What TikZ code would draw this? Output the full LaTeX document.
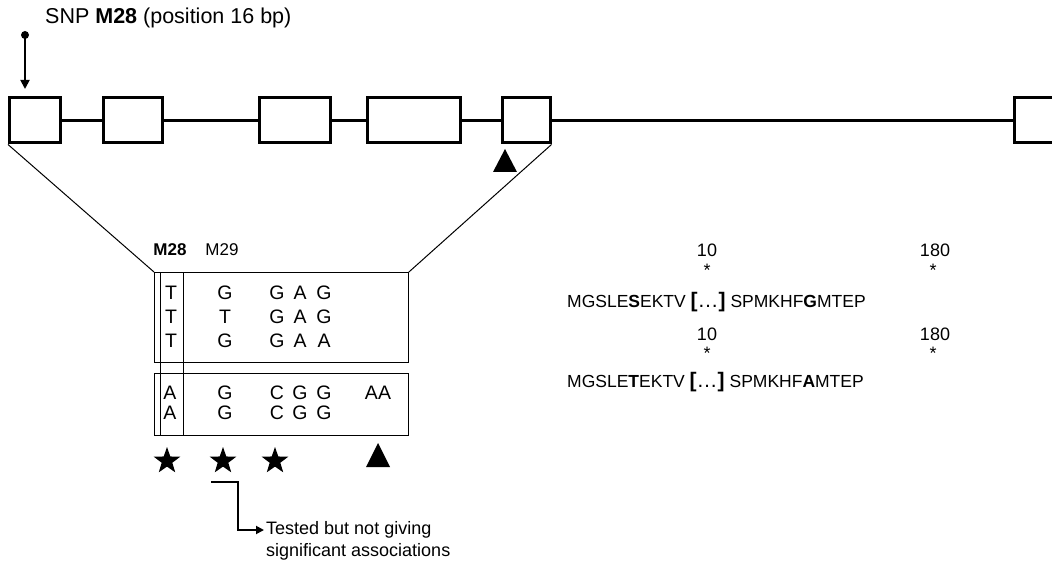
\documentclass[tikz,border=0pt]{standalone}
\usepackage{fontspec}
\setmainfont{Liberation Sans}
\usetikzlibrary{shapes.geometric,arrows.meta}
\begin{document}
\begin{tikzpicture}[x=1pt,y=-1pt,
  exon/.style={draw,line width=3pt,inner sep=0pt,minimum height=45pt},
  intron/.style={line width=3pt},
  abox/.style={draw,line width=0.9pt,inner sep=0pt,anchor=north west},
  base/.style={inner sep=0pt,font=\fontsize{18}{20}\selectfont},
  nuc/.style={inner sep=0pt,font=\fontsize{19.5}{20}\selectfont},
  seqtxt/.style={inner sep=0pt,anchor=west,font=\fontsize{17.5}{20}\selectfont},
  startag/.style={star,star points=5,star point ratio=2.5,fill=black,inner sep=0pt,minimum size=28pt},
  zoomline/.style={line width=1pt},
  arr/.style={line width=1.8pt,-{Triangle[length=9pt,width=9pt]}}
]
\clip (0,0) rectangle (1052,572);
\fill[white] (0,0) rectangle (1052,572);

% title
\node[inner sep=0pt,anchor=west,font=\fontsize{21.5}{24}\selectfont] (title) at (45,18) {SNP \textbf{M28} (position 16 bp)};

% exons
\node[exon,minimum width=51pt] (e1) at (35,120.5) {};
\node[exon,minimum width=59pt] (e2) at (132.5,120.5) {};
\node[exon,minimum width=71pt] (e3) at (294.5,120.5) {};
\node[exon,minimum width=93pt] (e4) at (413.5,120.5) {};
\node[exon,minimum width=48pt] (e5) at (526,120.5) {};
\node[exon,minimum width=52pt] (e6) at (1040,120.5) {};
\draw[intron] (e1.east) -- (e2.west);
\draw[intron] (e2.east) -- (e3.west);
\draw[intron] (e3.east) -- (e4.west);
\draw[intron] (e4.east) -- (e5.west);
\draw[intron] (e5.east) -- (e6.west);

% SNP arrow
\coordinate (snpdot) at (25,35);
\coordinate (snptip) at (25,89);
\fill (snpdot) circle (4pt);
\draw[arr] (snpdot) -- (snptip);

% triangle under exon 5
\fill (493,172) -- (505,149) -- (517,172) -- cycle;

% alignment boxes
\node[abox,minimum width=254pt,minimum height=90pt] (ub) at (154,272) {};
\node[abox,minimum width=254pt,minimum height=62pt] (lb) at (154,373) {};
\node[abox,minimum width=23pt,minimum height=163pt] (cb) at (160,272) {};

% zoom lines
\draw[zoomline] (e1.south west) -- (ub.north west);
\draw[zoomline] (e5.south east) -- (ub.north east);

% labels
\node[base,font=\fontsize{17}{20}\selectfont\bfseries] (m28) at (170,250) {M28};
\node[base,font=\fontsize{17}{20}\selectfont] (m29) at (222,250) {M29};

% upper rows
\foreach \y/\a/\b/\c/\d/\e [count=\i] in {293/T/G/G/A/G, 317/T/T/G/A/G, 341/T/G/G/A/A}{
  \node[nuc] (u\i a) at (171,\y) {\a};
  \node[nuc] (u\i b) at (225,\y) {\b};
  \node[nuc] (u\i c) at (277,\y) {\c};
  \node[nuc] (u\i d) at (300,\y) {\d};
  \node[nuc] (u\i e) at (324,\y) {\e};
}
% lower rows
\foreach \y/\a/\b/\c/\d/\e [count=\i] in {393/A/G/C/G/G, 413/A/G/C/G/G}{
  \node[nuc] (l\i a) at (170,\y) {\a};
  \node[nuc] (l\i b) at (225,\y) {\b};
  \node[nuc] (l\i c) at (277,\y) {\c};
  \node[nuc] (l\i d) at (300,\y) {\d};
  \node[nuc] (l\i e) at (324,\y) {\e};
}
\node[nuc] (aa) at (378,393) {AA};

% stars and triangle
\node[startag] (s1) at (167,461) {};
\node[startag] (s2) at (223,461) {};
\node[startag] (s3) at (275,461) {};
\fill (366,467) -- (378,443) -- (390,467) -- cycle;

% bent arrow
\coordinate (b0) at (211,482);
\coordinate (b1) at (238,482);
\coordinate (b2) at (238,530);
\node[base,anchor=west] (tested) at (266,530) {Tested but not giving};
\node[base,anchor=west] (signif) at (266,552) {significant associations};
\draw[line width=1.8pt,-{Triangle[length=8pt,width=8pt]}] (b0) -- (b1) -- (b2) -- ([xshift=-2pt]tested.west);

% protein sequences
\node[base] (n10a) at (707,250) {10};
\node[base] (st10a) at (707,270) {*};
\node[base] (n180a) at (935,250) {180};
\node[base] (st180a) at (933,270) {*};
\node[seqtxt] (seq1) at (567,302) {MGSLE\textbf{S}EKTV {\fontsize{21}{22}\selectfont\textbf{[}\ldots\textbf{]}} SPMKHF\textbf{G}MTEP};
\node[base] (n10b) at (707,334) {10};
\node[base] (st10b) at (707,353) {*};
\node[base] (n180b) at (935,334) {180};
\node[base] (st180b) at (933,353) {*};
\node[seqtxt] (seq2) at (567,382) {MGSLE\textbf{T}EKTV {\fontsize{21}{22}\selectfont\textbf{[}\ldots\textbf{]}} SPMKHF\textbf{A}MTEP};
\end{tikzpicture}
\end{document}
